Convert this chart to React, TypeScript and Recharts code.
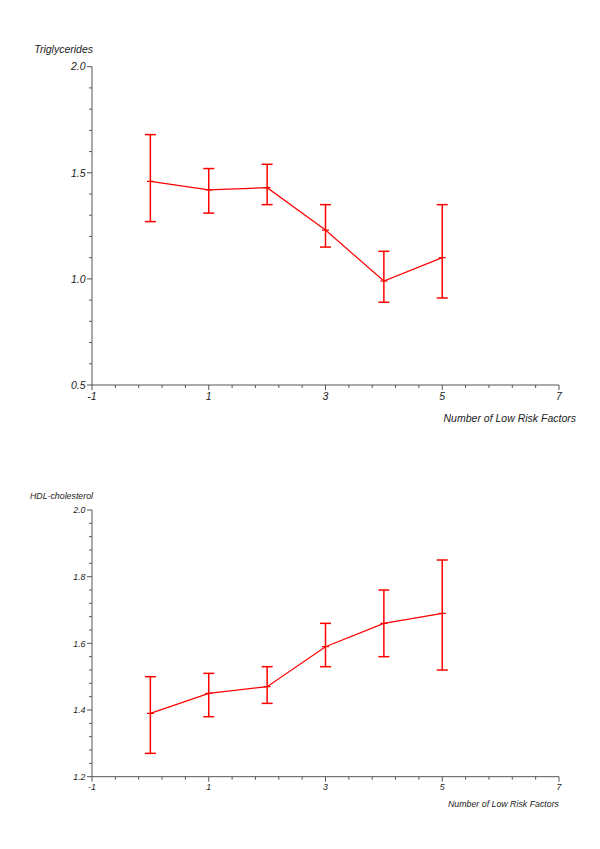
import React from 'react';
import { LineChart, Line, XAxis, YAxis, ErrorBar } from 'recharts';

const factors = [0, 1, 2, 3, 4, 5];
const trigMean = [1.46, 1.42, 1.43, 1.23, 0.99, 1.1];
const trigLow = [1.27, 1.31, 1.35, 1.15, 0.89, 0.91];
const trigHigh = [1.68, 1.52, 1.54, 1.35, 1.13, 1.35];
const hdlMean = [1.39, 1.45, 1.47, 1.59, 1.66, 1.69];
const hdlLow = [1.27, 1.38, 1.42, 1.53, 1.56, 1.52];
const hdlHigh = [1.5, 1.51, 1.53, 1.66, 1.76, 1.85];

const xTicks = [-1, -0.6, -0.2, 0.2, 0.6, 1, 1.4, 1.8, 2.2, 2.6, 3, 3.4, 3.8, 4.2, 4.6, 5, 5.4, 5.8, 6.2, 6.6, 7];
const xLabels = [-1, 1, 3, 5, 7];
const trigTicks = [0.5, 0.6, 0.7, 0.8, 0.9, 1.0, 1.1, 1.2, 1.3, 1.4, 1.5, 1.6, 1.7, 1.8, 1.9, 2.0];
const trigLabels = [0.5, 1.0, 1.5, 2.0];
const hdlTicks = [1.2, 1.24, 1.28, 1.32, 1.36, 1.4, 1.44, 1.48, 1.52, 1.56, 1.6, 1.64, 1.68, 1.72, 1.76, 1.8, 1.84, 1.88, 1.92, 1.96, 2.0];
const hdlLabels = [1.2, 1.4, 1.6, 1.8, 2.0];

const build = (mean: number[], low: number[], high: number[]) =>
  factors.map((f, i) => ({ x: f, mean: mean[i], err: [mean[i] - low[i], high[i] - mean[i]] }));

const trigData = build(trigMean, trigLow, trigHigh);
const hdlData = build(hdlMean, hdlLow, hdlHigh);

const FONT = '"Liberation Sans", Arial, Helvetica, sans-serif';
const AXIS = '#555';
const TEXT = '#222';
const RED = '#ff0000';

const isIn = (v: number, arr: number[]) => arr.some((a) => Math.abs(a - v) < 1e-6);

const makeXTick = (fs: number, dy: number) => (props: any) => {
  const { x, y, payload } = props;
  const major = isIn(payload.value, xLabels);
  return (
    <g>
      <line x1={x} y1={y} x2={x} y2={y + (major ? 5 : 3)} stroke={AXIS} strokeWidth={1} />
      {major && (
        <text x={x} y={y + dy} textAnchor="middle" fontSize={fs} fontStyle="italic" fontFamily={FONT} fill={TEXT}>
          {String(payload.value)}
        </text>
      )}
    </g>
  );
};

const makeYTick = (fs: number, labels: number[]) => (props: any) => {
  const { x, y, payload } = props;
  const major = isIn(payload.value, labels);
  return (
    <g>
      <line x1={x} y1={y} x2={x - (major ? 5 : 3)} y2={y} stroke={AXIS} strokeWidth={1} />
      {major && (
        <text x={x - 6.5} y={y + fs * 0.36} textAnchor="end" fontSize={fs} fontStyle="italic" fontFamily={FONT} fill={TEXT}>
          {Number(payload.value).toFixed(1)}
        </text>
      )}
    </g>
  );
};

const Dot = (props: any) => {
  const { cx, cy } = props;
  if (cx == null || cy == null) return null;
  return <line x1={cx - 3.5} y1={cy} x2={cx + 3.5} y2={cy} stroke={RED} strokeWidth={1.2} />;
};

type PanelProps = {
  data: any[];
  top: number;
  height: number;
  margin: any;
  yDomain: [number, number];
  yTicks: number[];
  yLabels: number[];
  fs: number;
  title: string;
  xDy: number;
  xLabelDy: number;
  xLabelDx: number;
  titleDy: number;
};

const Panel = (p: PanelProps) => (
  <div style={{ position: 'absolute', left: 0, top: p.top }}>
    <LineChart width={600} height={p.height} data={p.data} margin={p.margin}>
      <XAxis
        dataKey="x"
        type="number"
        domain={[-1, 7]}
        ticks={xTicks}
        interval={0}
        height={1}
        tickSize={0}
        tickMargin={0}
        tickLine={false}
        axisLine={{ stroke: AXIS, strokeWidth: 1 }}
        tick={makeXTick(p.fs, p.xDy)}
        allowDataOverflow
        label={{
          value: 'Number of Low Risk Factors',
          content: (lp: any) => {
            const vb = lp.viewBox || { x: 92, y: 0, width: 467, height: 0 };
            return (
              <text x={vb.x + vb.width + p.xLabelDx} y={vb.y + p.xLabelDy} textAnchor="end" fontSize={p.fs} fontStyle="italic" fontFamily={FONT} fill={TEXT}>
                Number of Low Risk Factors
              </text>
            );
          },
        }}
      />
      <YAxis
        type="number"
        domain={p.yDomain}
        ticks={p.yTicks}
        interval={0}
        width={1}
        tickSize={0}
        tickMargin={0}
        tickLine={false}
        axisLine={{ stroke: AXIS, strokeWidth: 1 }}
        tick={makeYTick(p.fs, p.yLabels)}
        allowDataOverflow
        label={{
          value: p.title,
          content: (lp: any) => {
            const vb = lp.viewBox || { x: 91, y: 0, width: 1, height: 0 };
            return (
              <text x={vb.x + vb.width + 1} y={vb.y - p.titleDy} textAnchor="end" fontSize={p.fs} fontStyle="italic" fontFamily={FONT} fill={TEXT}>
                {p.title}
              </text>
            );
          },
        }}
      />
      <Line
        dataKey="mean"
        stroke={RED}
        strokeWidth={1.2}
        dot={<Dot />}
        activeDot={false}
        isAnimationActive={false}
      >
        <ErrorBar dataKey="err" direction="y" width={5.5} stroke={RED} strokeWidth={1.5} isAnimationActive={false} />
      </Line>
    </LineChart>
  </div>
);

export default function App() {
  return (
    <div style={{ position: 'absolute', left: 0, top: 0, width: 600, height: 849, background: '#fff' }}>
      <Panel
        data={trigData}
        top={0}
        height={430}
        margin={{ top: 66.7, left: 91, right: 41, bottom: 44 }}
        yDomain={[0.5, 2.0]}
        yTicks={trigTicks}
        yLabels={trigLabels}
        fs={10.5}
        title="Triglycerides"
        xDy={15}
        xLabelDy={37}
        xLabelDx={17}
        titleDy={13.5}
      />
      <Panel
        data={hdlData}
        top={430}
        height={419}
        margin={{ top: 80, left: 91, right: 41, bottom: 71.3 }}
        yDomain={[1.2, 2.0]}
        yTicks={hdlTicks}
        yLabels={hdlLabels}
        fs={8.8}
        title="HDL-cholesterol"
        xDy={13}
        xLabelDy={30}
        xLabelDx={0}
        titleDy={11}
      />
    </div>
  );
}
